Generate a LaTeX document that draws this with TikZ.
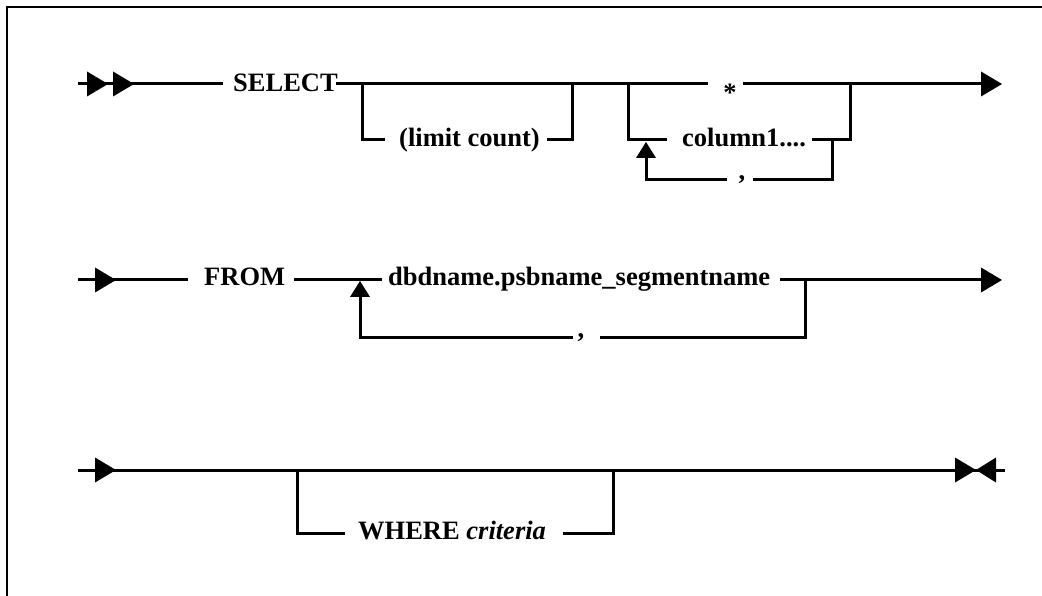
\documentclass[tikz,border=0pt]{standalone}
\usepackage{fontspec}
\setmainfont{Liberation Serif}
\begin{document}
\begin{tikzpicture}[x=1pt,y=-1pt,
  rail/.style={line width=3pt},
  kw/.style={anchor=base west,inner sep=0pt,font=\fontsize{26.5}{30}\selectfont\bfseries},
  kwc/.style={kw,anchor=base},
  frameline/.style={line width=2pt},
  rtri/.pic={\fill (0,-12.5) -- (21,0) -- (0,12.5) -- cycle;},
  ltri/.pic={\fill (0,-12.5) -- (-20,0) -- (0,12.5) -- cycle;},
  utri/.pic={\fill (0,0) -- (10,16) -- (-10,16) -- cycle;},
]
\useasboundingbox (0,0) rectangle (1042,596);
\draw[frameline] (7,600) -- (7,7) -- (1046,7);

% ---------- Row 1: SELECT ----------
\coordinate (a0) at (78,84);
\coordinate (a1) at (223,84);
\node[kw] (sel) at (233,92) {SELECT};
\coordinate (a2) at (336,84);
\coordinate (s1) at (708,84);
\node[kwc] (star) at (730,102) {*};
\coordinate (s2) at (743,84);
\coordinate (e1) at (981,84);

\coordinate (b1) at (362,84);
\coordinate (b1d) at (362,140);
\coordinate (b1l) at (385,140);
\node[kw] (lim) at (399,147) {(limit count)};
\coordinate (b1r) at (547,140);
\coordinate (b1e) at (572,140);
\coordinate (b2) at (572,84);

\coordinate (c1) at (628,84);
\coordinate (c1d) at (628,140);
\coordinate (c1l) at (667,140);
\node[kw] (col) at (682,147) {column1....};
\coordinate (c1r) at (812,140);
\coordinate (c2d) at (850,140);
\coordinate (c2) at (850,84);

\coordinate (l1) at (832,140);
\coordinate (l1d) at (832,180);
\coordinate (l1r) at (753,180);
\node[kwc] (comma1) at (742,180) {,};
\coordinate (l1l) at (727,180);
\coordinate (l0d) at (646,180);
\coordinate (l0u) at (646,157);
\coordinate (l0t) at (646,142);

\draw[rail] (a0) -- (a1);
\draw[rail] (a2) -- (s1);
\draw[rail] (s2) -- (e1);
\draw[rail] (b1) -- (b1d) -- (b1l);
\draw[rail] (b1r) -- (b1e) -- (b2);
\draw[rail] (c1) -- (c1d) -- (c1l);
\draw[rail] (c1r) -- (c2d) -- (c2);
\draw[rail] (l1) -- (l1d) -- (l1r);
\draw[rail] (l1l) -- (l0d) -- (l0u);
\pic at (87,84) {rtri};
\pic at (113,84) {rtri};
\pic at (e1) {rtri};
\pic at (l0t) {utri};

% ---------- Row 2: FROM ----------
\coordinate (f0) at (78,280);
\coordinate (f1) at (188,280);
\node[kw] (from) at (204,286) {FROM};
\coordinate (f2) at (294,280);
\coordinate (f3) at (382,280);
\node[kw] (db) at (388,286) {dbdname.psbname\_segmentname};
\coordinate (f4) at (780,280);
\coordinate (f5) at (981,280);

\coordinate (g0) at (360,297);
\coordinate (g1) at (360,337);
\coordinate (g2) at (573,337);
\node[kwc] (comma2) at (581,337) {,};
\coordinate (g3) at (600,337);
\coordinate (g4) at (805,337);
\coordinate (g5) at (805,280);
\coordinate (gt) at (360,281);

\draw[rail] (f0) -- (f1);
\draw[rail] (f2) -- (f3);
\draw[rail] (f4) -- (f5);
\draw[rail] (g0) -- (g1) -- (g2);
\draw[rail] (g3) -- (g4) -- (g5);
\pic at (95,280) {rtri};
\pic at (f5) {rtri};
\pic at (gt) {utri};

% ---------- Row 3: WHERE ----------
\coordinate (h0) at (78,470);
\coordinate (h1) at (1005,470);
\coordinate (k0) at (297,470);
\coordinate (k1) at (297,533);
\coordinate (k2) at (345,533);
\node[kw] (where) at (358,539) {WHERE \textit{criteria}};
\coordinate (k3) at (563,533);
\coordinate (k4) at (613,533);
\coordinate (k5) at (613,470);

\draw[rail] (h0) -- (h1);
\draw[rail] (k0) -- (k1) -- (k2);
\draw[rail] (k3) -- (k4) -- (k5);
\pic at (95,470) {rtri};
\pic at (955,470) {rtri};
\pic at (996,470) {ltri};
\end{tikzpicture}
\end{document}
